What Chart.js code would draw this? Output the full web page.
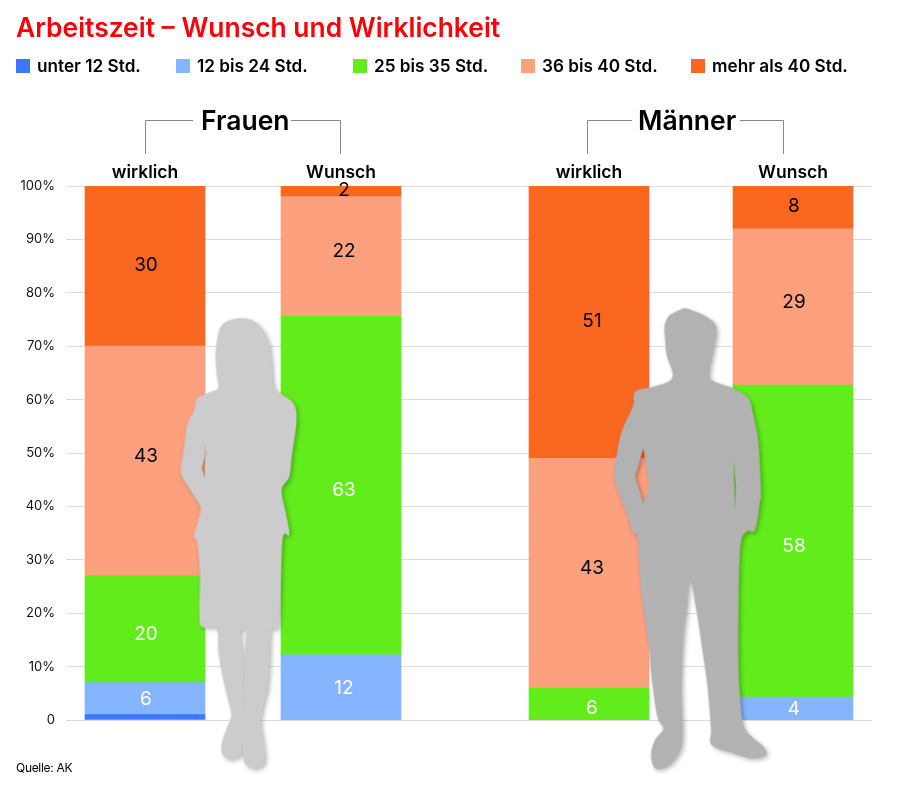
<!DOCTYPE html>
<html lang="de">
<head>
<meta charset="utf-8">
<title>Arbeitszeit</title>
<script src="https://cdn.jsdelivr.net/npm/chart.js@4"></script>
<style>
  html, body { margin: 0; padding: 0; background: #fff; }
  #page { position: relative; width: 900px; height: 788px; overflow: hidden; font-family: Inter, "Liberation Sans", sans-serif; color: #000; }
  #myChart { position: absolute; left: 0; top: 0; }
  #title { position: absolute; left: 16px; top: 11px; font-size: 26.4px; font-weight: 600; color: #fb0007; white-space: nowrap; }
  .legendItem { position: absolute; top: 56px; font-size: 17.2px; font-weight: 600; white-space: nowrap; line-height: 20px; }
  .legendItem i { position: absolute; left: -21px; top: 3px; width: 14px; height: 14px; }
  .group { position: absolute; top: 102px; font-size: 26.5px; font-weight: 600; white-space: nowrap; line-height: 36px; }
  #source { position: absolute; left: 16px; top: 760px; font-size: 12px; letter-spacing: -0.3px; }
  svg { position: absolute; left: 0; top: 0; pointer-events: none; }
</style>
</head>
<body>
<div id="page">
  <canvas id="myChart" width="900" height="788"></canvas>
  <svg width="900" height="788" viewBox="0 0 900 788">
    <!-- brackets above the groups -->
    <path d="M145.5 154V120.5H193M291 120.5H340.5V154M587.5 154V120.5H632M740 120.5H783.5V154" fill="none" stroke="#888" stroke-width="1"/>
    <g style="filter: drop-shadow(2px 2px 2px rgba(0,0,0,.28))">
      <path id="woman" transform="translate(170 300) scale(.3333)" fill="#cccccc" fill-rule="evenodd"/>
      <path id="man" transform="translate(600 295) scale(.3333)" fill="#b2b2b2" fill-rule="evenodd"/>
    </g>
  </svg>
  <div id="title">Arbeitszeit – Wunsch und Wirklichkeit</div>
  <div id="legend"></div>
  <div class="group" style="left:201px">Frauen</div>
  <div class="group" style="left:638px">Männer</div>
  <div id="source">Quelle: AK</div>
</div>
<script>
//data
const categories = ["wirklich", "Wunsch", "wirklich", "Wunsch"];
const seriesNames = ["unter 12 Std.", "12 bis 24 Std.", "25 bis 35 Std.", "36 bis 40 Std.", "mehr als 40 Std."];
const under12 = [1, 0, 0, 0];
const from12to24 = [6, 12.2, 0, 4.3];
const from25to35 = [20, 63.4, 6, 58.4];
const from36to40 = [43, 22.4, 43, 29.3];
const over40 = [30, 2, 51, 8];
const yTicks = [0, 10, 20, 30, 40, 50, 60, 70, 80, 90, 100];

//look of the series
const seriesColors = ["#3b78ff", "#85b5ff", "#63ec1c", "#fca07e", "#f96721"];
const labelColors = ["#fff", "#fff", "#fff", "#000", "#000"];
const labelShiftY = [0, 1, 5, -5, -1];
const labelShiftX = [1, 3, 3, 1];
const legendLeft = [37, 197, 374, 542, 712];

//bars are not evenly spaced, so x is a linear axis with its own slots
const barSlots = [1.975, 6.875, 13.075, 18.175];

const seriesValues = [under12, from12to24, from25to35, from36to40, over40];
const datasets = seriesNames.map((name, s) => ({
  label: name,
  backgroundColor: seriesColors[s],
  barThickness: 120,
  data: seriesValues[s].map((v, i) => ({ x: barSlots[i], y: v }))
}));

//html legend
document.getElementById("legend").innerHTML = seriesNames.map((name, s) =>
  `<div class="legendItem" style="left:${legendLeft[s]}px"><i style="background:${seriesColors[s]}"></i>${name}</div>`
).join("");

//silhouettes, traced on the 3x zoom grid and smoothed
const womanOutline = [210,55,180,60,155,75,143,110,137,170,140,220,145,262,125,275,90,288,78,300,73,330,55,365,47,405,40,460,32,510,42,540,70,585,92,625,82,670,72,710,82,730,90,820,88,930,95,980,140,986,145,1050,158,1130,172,1190,184,1245,170,1285,155,1330,158,1365,185,1378,212,1365,218,1330,222,1385,250,1405,282,1390,282,1340,272,1270,280,1215,292,1165,298,1090,303,990,322,985,330,900,338,715,358,705,348,640,335,570,358,530,365,470,380,360,370,310,335,282,312,260,305,190,297,130,275,85,245,60];
const manOutline = [255,40,228,50,205,65,193,95,196,140,200,180,218,235,205,260,160,275,105,290,100,330,75,385,60,425,50,480,42,530,55,590,80,655,100,715,112,725,118,820,128,930,145,1040,155,1150,172,1265,190,1300,165,1335,153,1380,165,1420,200,1415,230,1385,248,1330,245,1180,250,1040,262,930,272,860,290,950,305,1050,322,1170,333,1300,335,1350,400,1375,460,1390,498,1378,490,1355,455,1325,430,1290,420,1200,415,1060,420,770,440,710,465,705,480,620,483,590,475,440,460,360,445,310,400,280,335,255,330,225,340,170,350,110,340,80,310,60,285,50];
const womanGaps = "M105 435L112 470L105 535L95 505L105 470ZM212 988C212 1030 222 1060 222 1100C218 1150 218 1200 228 1235L224 1100L228 988Z";
const manGaps = "M130 460L105 545L130 625L147 570L137 500ZM400 490L405 645L408 570Z";

function smoothPath(flat) {
  const pts = [];
  for (let i = 0; i < flat.length; i += 2) pts.push([flat[i], flat[i + 1]]);
  const n = pts.length;
  let d = `M${pts[0][0]} ${pts[0][1]}`;
  for (let i = 0; i < n; i++) {
    const p0 = pts[(i - 1 + n) % n], p1 = pts[i], p2 = pts[(i + 1) % n], p3 = pts[(i + 2) % n];
    const c1x = p1[0] + (p2[0] - p0[0]) / 6, c1y = p1[1] + (p2[1] - p0[1]) / 6;
    const c2x = p2[0] - (p3[0] - p1[0]) / 6, c2y = p2[1] - (p3[1] - p1[1]) / 6;
    d += `C${c1x} ${c1y} ${c2x} ${c2y} ${p2[0]} ${p2[1]}`;
  }
  return d + "Z";
}
document.getElementById("woman").setAttribute("d", smoothPath(womanOutline) + womanGaps);
document.getElementById("man").setAttribute("d", smoothPath(manOutline) + manGaps);

//numbers inside the bars
const barNumbers = {
  id: "barNumbers",
  afterDatasetsDraw(chart) {
    const ctx = chart.ctx;
    ctx.save();
    ctx.font = "19px Inter";
    ctx.textAlign = "center";
    ctx.textBaseline = "middle";
    chart.data.datasets.forEach((ds, s) => {
      chart.getDatasetMeta(s).data.forEach((bar, i) => {
        const v = ds.data[i].y;
        if (v < 2) return;
        ctx.fillStyle = labelColors[s];
        ctx.fillText(Math.round(v), bar.x + labelShiftX[i], (bar.y + bar.base) / 2 + labelShiftY[s]);
      });
    });
    ctx.restore();
  }
};

new Chart(document.getElementById("myChart"), {
  type: "bar",
  data: { datasets },
  plugins: [barNumbers],
  options: {
    responsive: false,
    animation: false,
    layout: { padding: { top: 150, right: 28, bottom: 68, left: 0 } },
    plugins: { legend: { display: false }, title: { display: false }, tooltip: { enabled: false } },
    scales: {
      x: {
        type: "linear",
        position: "top",
        stacked: true,
        offset: false,
        min: 0,
        max: 20.15,
        afterBuildTicks(scale) { scale.ticks = barSlots.map(value => ({ value })); },
        afterFit(scale) { scale.height = 36; },
        grid: { display: false, drawTicks: false, tickLength: 0 },
        border: { display: false },
        ticks: {
          autoSkip: false,
          maxRotation: 0,
          padding: 3,
          color: "#000",
          font: { family: "Inter", size: 17.5, weight: "600" },
          callback: (value, index) => categories[index]
        }
      },
      y: {
        stacked: true,
        min: 0,
        max: 100,
        afterBuildTicks(scale) { scale.ticks = yTicks.map(value => ({ value })); },
        afterFit(scale) { scale.width = 66; },
        grid: { color: "#dcdcdc", lineWidth: 1, tickLength: 0 },
        border: { display: false },
        ticks: {
          padding: 11,
          color: "#111",
          font: { family: "Inter", size: 13 },
          callback: value => value === 0 ? "0" : value + "%"
        }
      }
    }
  }
});
</script>
</body>
</html>
